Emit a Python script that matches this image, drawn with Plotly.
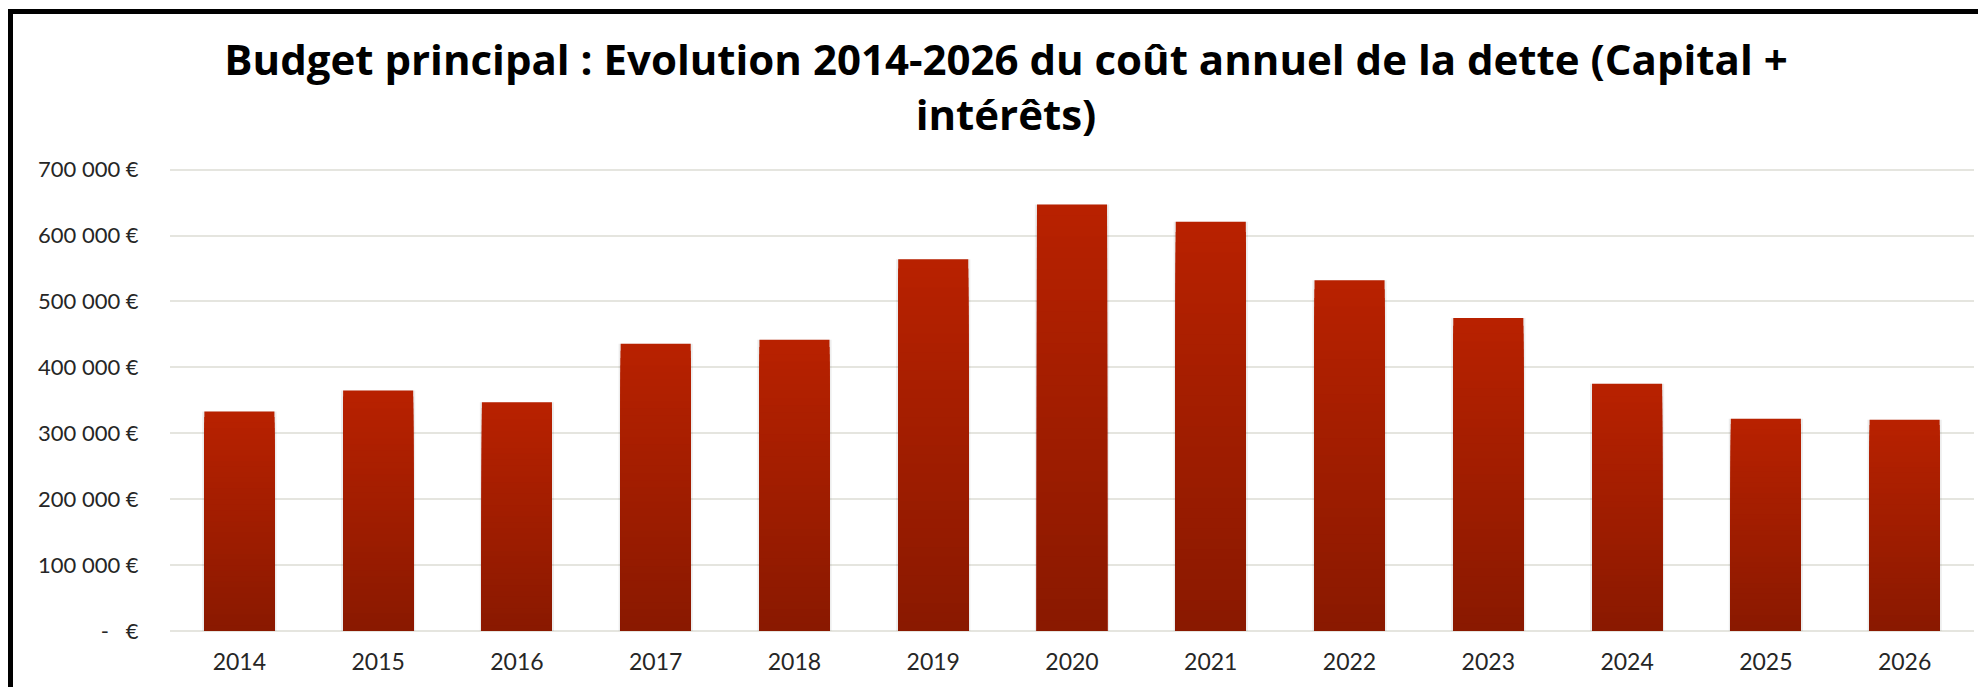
import plotly.graph_objects as go

# ---- data ----
years = ["2014", "2015", "2016", "2017", "2018", "2019", "2020",
         "2021", "2022", "2023", "2024", "2025", "2026"]
debt_cost = [333000, 365000, 347000, 436000, 442000, 564000, 647000,
             621000, 532000, 475000, 375000, 322000, 320500]
tick_values = [0, 100000, 200000, 300000, 400000, 500000, 600000, 700000]
tick_labels = ["-\u00a0\u00a0\u00a0€", "100 000 €", "200 000 €", "300 000 €",
               "400 000 €", "500 000 €", "600 000 €", "700 000 €"]
title_text = ("Budget principal : Evolution 2014-2026 du coût annuel de la dette (Capital +"
              "<br>intérêts)")

# ---- style ----
# page body has an 8px margin, figure is sized to fit the remaining window
W, H = 1978, 679
ML, MR, MT, MB = 162, 12, 159, 56
Y_MAX = 704000   # slightly above 700k so the top gridline is drawn
TOP_RGB = (184, 33, 0)
BOT_RGB = (138, 25, 0)
N_BANDS = 40
BAR_W = 0.505

fig = go.Figure()

# soft shadow behind bars
fig.add_trace(go.Bar(
    x=years, y=debt_cost, width=BAR_W + 0.03,
    marker=dict(color="rgba(0,0,0,0.07)", line=dict(width=0)),
    hoverinfo="skip", showlegend=False,
))

# vertical gradient made of overlaid bands (top bright -> bottom dark)
for k in range(N_BANDS):
    t = k / (N_BANDS - 1)
    r = round(TOP_RGB[0] + (BOT_RGB[0] - TOP_RGB[0]) * t)
    g = round(TOP_RGB[1] + (BOT_RGB[1] - TOP_RGB[1]) * t)
    b = round(TOP_RGB[2] + (BOT_RGB[2] - TOP_RGB[2]) * t)
    frac = 1 - k / N_BANDS
    fig.add_trace(go.Bar(
        x=years, y=[v * frac for v in debt_cost], width=BAR_W,
        marker=dict(color=f"rgb({r},{g},{b})", line=dict(width=0)),
        hoverinfo="skip" if k else "x+y", showlegend=False,
    ))

plot_w = W - ML - MR
plot_h = H - MT - MB

fig.update_layout(
    width=W, height=H,
    margin=dict(l=ML, r=MR, t=MT, b=MB, pad=0),
    paper_bgcolor="white", plot_bgcolor="white",
    barmode="overlay",
    showlegend=False,
    title=dict(
        text=title_text,
        x=998 / W, xref="container", xanchor="center",
        y=1 - 67 / H, yref="container", yanchor="top",
        font=dict(family="Open Sans", size=42, color="#000000", weight="bold"),
    ),
    xaxis=dict(
        type="category",
        tickfont=dict(family="Lato", size=23, color="#262626"),
        ticks="outside", ticklen=10, tickcolor="rgba(0,0,0,0)",
        showline=False, showgrid=False,
    ),
    yaxis=dict(
        range=[0, Y_MAX],
        tickvals=tick_values, ticktext=tick_labels,
        tickfont=dict(family="Lato", size=22, color="#262626"),
        ticks="outside", ticklen=26, tickcolor="rgba(0,0,0,0)",
        showgrid=True, gridcolor="#E5E5DF", gridwidth=1.5,
        zeroline=True, zerolinecolor="#E5E5DF", zerolinewidth=1.5,
        showline=False,
    ),
    shapes=[dict(
        type="rect", xref="paper", yref="paper", layer="above",
        x0=(2.5 - ML) / plot_w, x1=(W + 20 - ML) / plot_w,
        y0=-(H + 20 - (H - MB)) / plot_h, y1=1 + (MT - 3.5) / plot_h,
        line=dict(color="black", width=5), fillcolor="rgba(0,0,0,0)",
    )],
)

fig.write_html("out.html")
